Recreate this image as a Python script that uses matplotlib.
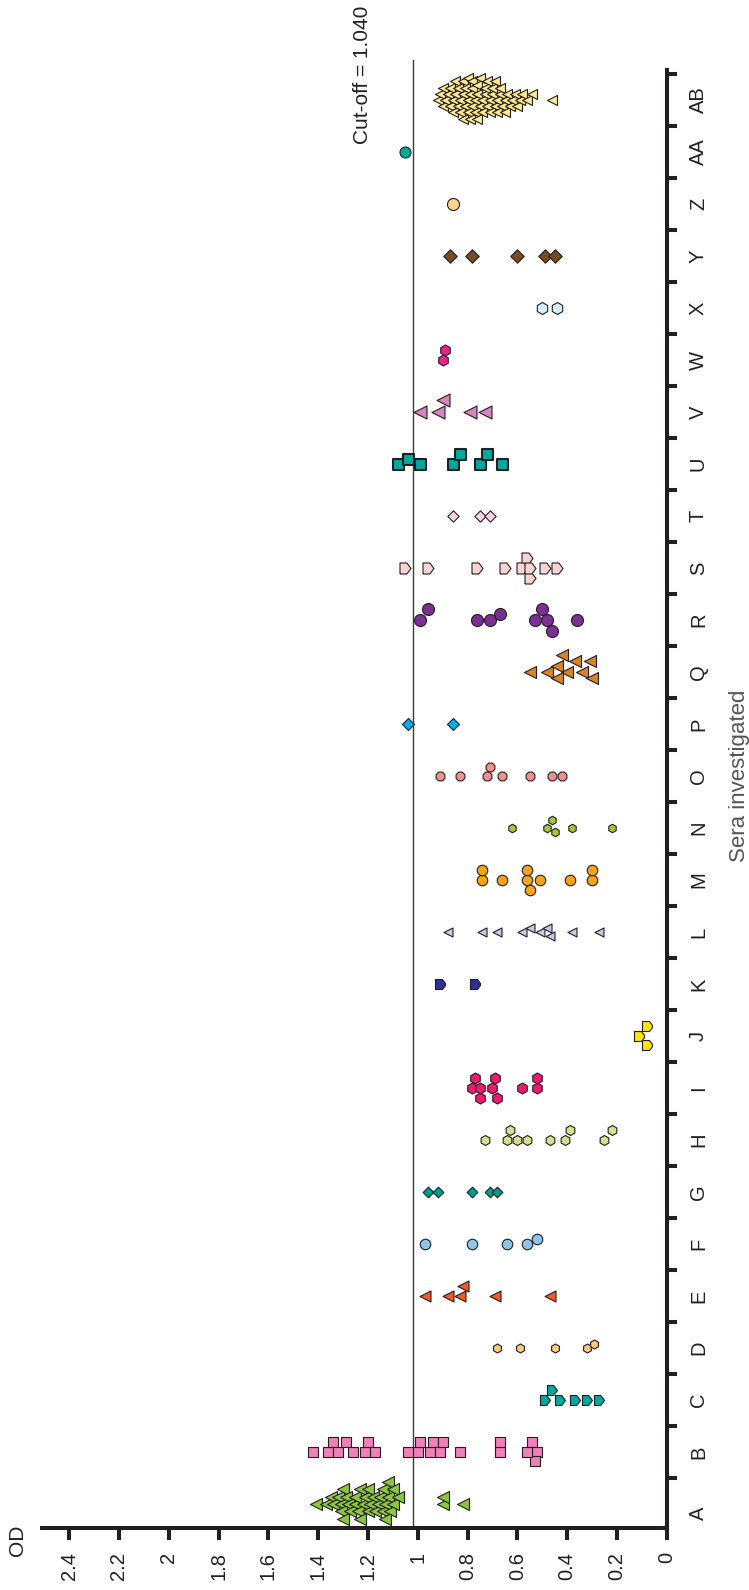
import math
import matplotlib
matplotlib.use("Agg")
import matplotlib.pyplot as plt

plt.rcParams['font.family'] = ['Liberation Sans', 'DejaVu Sans']

# ---------------- data (OD values per serum group) ----------------
categories = ["A", "B", "C", "D", "E", "F", "G", "H", "I", "J", "K", "L", "M", "N",
              "O", "P", "Q", "R", "S", "T", "U", "V", "W", "X", "Y", "Z", "AA", "AB"]

A = [1.41, 1.37, 1.35, 1.34, 1.32, 1.31, 1.31, 1.30, 1.30, 1.29, 1.28, 1.27, 1.25,
     1.25, 1.24, 1.23, 1.23, 1.22, 1.21, 1.20, 1.20, 1.19, 1.18, 1.17, 1.16, 1.15,
     1.14, 1.14, 1.13, 1.13, 1.12, 1.12, 1.11, 1.10, 1.10, 1.08, 0.90, 0.90, 0.82]
B = [1.42, 1.36, 1.34, 1.32, 1.29, 1.26, 1.21, 1.20, 1.17, 1.04, 1.00, 0.99, 0.95,
     0.94, 0.91, 0.90, 0.83, 0.67, 0.67, 0.54, 0.52, 0.53, 0.56]
C = [0.49, 0.46, 0.43, 0.37, 0.32, 0.27]
D = [0.68, 0.59, 0.45, 0.32, 0.29]
E = [0.97, 0.88, 0.83, 0.82, 0.69, 0.47]
F = [0.97, 0.78, 0.64, 0.56, 0.52]
G = [0.96, 0.92, 0.78, 0.71, 0.68]
H = [0.73, 0.63, 0.64, 0.60, 0.56, 0.47, 0.41, 0.39, 0.25, 0.22]
I = [0.77, 0.69, 0.78, 0.75, 0.70, 0.75, 0.68, 0.58, 0.52, 0.52]
J = [0.11, 0.08, 0.08]
K = [0.91, 0.77]
L = [0.88, 0.74, 0.68, 0.58, 0.55, 0.51, 0.47, 0.48, 0.38, 0.27]
M = [0.74, 0.74, 0.66, 0.56, 0.55, 0.56, 0.51, 0.39, 0.30, 0.30]
N = [0.62, 0.46, 0.48, 0.45, 0.38, 0.22]
O = [0.91, 0.83, 0.71, 0.72, 0.66, 0.55, 0.46, 0.42]
P = [1.04, 0.86]
Q = [0.55, 0.48, 0.44, 0.40, 0.42, 0.44, 0.37, 0.34, 0.30, 0.31]
R = [0.99, 0.96, 0.76, 0.71, 0.67, 0.53, 0.48, 0.50, 0.46, 0.36]
S = [1.05, 0.96, 0.76, 0.65, 0.56, 0.55, 0.58, 0.55, 0.49, 0.44]
T = [0.86, 0.75, 0.71]
U = [1.08, 1.04, 0.99, 0.86, 0.83, 0.75, 0.72, 0.66]
V = [0.99, 0.92, 0.90, 0.79, 0.73]
W = [0.90, 0.89]
X = [0.50, 0.44]
Y = [0.87, 0.78, 0.60, 0.49, 0.45]
Z = [0.86]
AA = [1.05]
AB = [0.92, 0.91, 0.90, 0.90, 0.89, 0.88, 0.87, 0.87, 0.86, 0.86, 0.85, 0.85, 0.84,
      0.84, 0.83, 0.83, 0.82, 0.82, 0.82, 0.81, 0.81, 0.80, 0.80, 0.80, 0.79, 0.79,
      0.78, 0.78, 0.78, 0.77, 0.77, 0.76, 0.76, 0.76, 0.75, 0.75, 0.74, 0.74, 0.73,
      0.73, 0.72, 0.72, 0.71, 0.71, 0.70, 0.70, 0.69, 0.69, 0.68, 0.68, 0.67, 0.67,
      0.66, 0.65, 0.65, 0.64, 0.63, 0.62, 0.61, 0.60, 0.59, 0.58, 0.56, 0.54, 0.46]

series = [A, B, C, D, E, F, G, H, I, J, K, L, M, N, O, P, Q, R, S, T, U, V, W, X,
          Y, Z, AA, AB]

od_ticks = [0, 0.2, 0.4, 0.6, 0.8, 1, 1.2, 1.4, 1.6, 1.8, 2, 2.2, 2.4]
od_tick_labels = ["0", "0.2", "0.4", "0.6", "0.8", "1", "1.2", "1.4", "1.6", "1.8",
                  "2", "2.2", "2.4"]
cutoff_label = "Cut-off = 1.040"
cutoff_line = 1.02

# ---------------- styles ----------------
pent_right = [(-1, -1), (0.25, -1), (1, 0), (0.25, 1), (-1, 1), (-1, -1)]
trap_right = [(-1, -1), (0.4, -1), (1, -0.2), (1, 0.2), (0.4, 1), (-1, 1), (-1, -1)]

styles = {
    "A": ("<", "#8cc63f", 12),
    "B": ("s", "#f080b8", 10),
    "C": (pent_right, "#00a79d", 10),
    "D": ("h", "#fbc97f", 9),
    "E": ("<", "#ef5a2a", 11),
    "F": ("o", "#8ec5ea", 10.5),
    "G": ("D", "#009c8c", 7.5),
    "H": ("h", "#d5df8c", 10),
    "I": ("h", "#ec1a70", 11),
    "J": (trap_right, "#ffe500", 10),
    "K": (trap_right, "#2e3192", 10),
    "L": ("<", "#c5c9ea", 9),
    "M": ("o", "#f7a41d", 10.5),
    "N": ("h", "#9cc93c", 8.5),
    "O": ("8", "#f3908f", 9.5),
    "P": ("D", "#00aeef", 8.5),
    "Q": ("<", "#d9842a", 12),
    "R": ("o", "#7a2f93", 12),
    "S": (pent_right, "#fad4d2", 11),
    "T": ("D", "#f9d4e6", 8),
    "U": ("s", "#00a99d", 11),
    "V": ("<", "#d585bf", 13),
    "W": ("h", "#e2268c", 11),
    "X": ("h", "#d2edf8", 12),
    "Y": ("D", "#754c24", 9.5),
    "Z": ("o", "#fcd28c", 12),
    "AA": ("o", "#00a99d", 11),
    "AB": ("<", "#fbe98c", 10),
}
EDGE = "#231f20"
AXC = "#231f20"

W_PX, H_PX = 749, 1590
DPI = 100
fig = plt.figure(figsize=(W_PX / DPI, H_PX / DPI), dpi=DPI)

ax_l, ax_r = 42, 666.7
ax_t, ax_b = 70, 1527.7
ax = fig.add_axes([ax_l / W_PX, 1 - ax_b / H_PX, (ax_r - ax_l) / W_PX, (ax_b - ax_t) / H_PX])

XMAX = 2.509
YLO, YHI = -0.456, 27.577
ax.set_xlim(XMAX, 0)
ax.set_ylim(YLO, YHI)

PX_OD = (ax_r - ax_l) / XMAX
PX_CAT = (ax_b - ax_t) / (YHI - YLO)


def swarm(vals, d, maxoff):
    n = len(vals)
    xs = [v * PX_OD for v in vals]
    order = sorted(range(n), key=lambda i: -vals[i])
    step = d * 0.5
    cands = [0.0]
    k = 1
    while k * step <= maxoff:
        cands += [k * step, -k * step]
        k += 1
    placed = []
    offs = [0.0] * n
    for i in order:
        best, bestd = 0.0, -1
        for c in cands:
            md = min((math.hypot(xs[i] - px, c - py) for px, py in placed), default=1e9)
            if md >= d:
                best = c
                break
            if md > bestd:
                bestd, best = md, c
        placed.append((xs[i], best))
        offs[i] = best
    return [o / PX_CAT for o in offs]


PT = DPI / 72.0
for idx, (cat, vals) in enumerate(zip(categories, series)):
    mk, col, size_px = styles[cat]
    dense = len(vals) > 30
    d = size_px * (0.62 if dense else 0.95)
    offs = swarm(vals, d, 24 if dense else 20)
    ms = size_px / PT
    lw = 1.5 if cat == "U" else 0.8
    ax.scatter(vals, [idx + o for o in offs], marker=mk, s=ms ** 2, c=col,
               edgecolors=EDGE, linewidths=lw, zorder=3)

# cut-off line
ax.plot([cutoff_line, cutoff_line], [YLO, YHI + 10 / PX_CAT], color="#3a3a3a",
        lw=1.0, clip_on=False, zorder=2)
fig.text(362 / W_PX, 1 - 75 / H_PX, cutoff_label, rotation=90, ha="center",
         va="center", fontsize=15, color=AXC)

# spines
for s in ["top", "left"]:
    ax.spines[s].set_visible(False)
for s in ["bottom", "right"]:
    ax.spines[s].set_linewidth(2.9)
    ax.spines[s].set_color(AXC)
    ax.spines[s].set_capstyle("projecting")

# OD axis (bottom)
ax.set_xticks(od_ticks)
ax.set_xticklabels(od_tick_labels, rotation=90)
ax.tick_params(axis="x", direction="out", length=8.6, width=2.9, color=AXC,
               labelsize=14.5, labelcolor=AXC, pad=9)

# category axis (right)
ax.yaxis.set_ticks_position("right")
bounds = [i + 0.5 for i in range(len(categories))]
ax.set_yticks(bounds)
ax.set_yticklabels([""] * len(bounds))
label_pos = [i for i in range(len(categories))]
label_pos[0] = -0.18  # first label sits a little lower in the original
ax.set_yticks(label_pos, minor=True)
ax.set_yticklabels(categories, minor=True, rotation=90, va="center")
ax.tick_params(axis="y", which="major", direction="out", length=7.2, width=2.9,
               color=AXC, left=False, right=True, labelleft=False, labelright=True)
ax.tick_params(axis="y", which="minor", length=0, left=False, right=True,
               labelleft=False, labelright=True, labelsize=14.5, labelcolor=AXC, pad=16)

fig.text(18 / W_PX, 1 - 1540 / H_PX, "OD", rotation=90, ha="center", va="center",
         fontsize=15, color=AXC)
fig.text(740 / W_PX, 1 - 776 / H_PX, "Sera investigated", rotation=90, ha="center",
         va="center", fontsize=16, color="#555555")

fig.savefig("out.png", dpi=DPI)
